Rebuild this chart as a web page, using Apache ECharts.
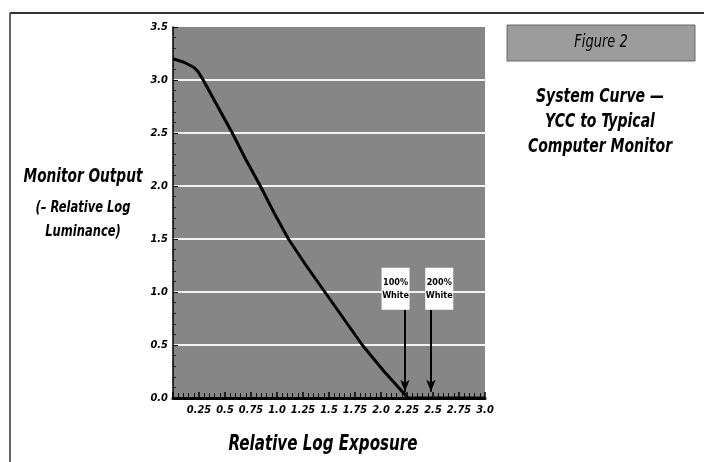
<!DOCTYPE html>
<html>
<head>
<meta charset="utf-8">
<script src="https://cdn.jsdelivr.net/npm/echarts@6/dist/echarts.min.js"></script>
<style>
html,body{margin:0;padding:0;background:#fff;}
#chart{width:704px;height:462px;}
</style>
</head>
<body>
<div id="chart"></div>
<script>
// Data
const exposure  = [0, 0.10, 0.20, 0.24, 0.29, 0.43, 0.57, 0.70, 0.84, 0.97, 1.11, 1.28, 1.46, 1.64, 1.82, 2.03, 2.26, 2.50, 2.75, 3.0];
const luminance = [3.2, 3.17, 3.12, 3.08, 3.0, 2.75, 2.5, 2.25, 2.0, 1.75, 1.5, 1.25, 1.0, 0.75, 0.5, 0.25, 0.0, 0.0, 0.0, 0.0];
const xTickLabels = ['', '0.25', '0.5', '0.75', '1.0', '1.25', '1.5', '1.75', '2.0', '2.25', '2.5', '2.75', '3.0'];
const yTickLabels = ['0.0', '0.5', '1.0', '1.5', '2.0', '2.5', '3.0', '3.5'];
const markerLabels = ['100%\nWhite', '200%\nWhite'];
const markerX = [2.23, 2.48];

const FONT = "'DejaVu Sans Condensed','Liberation Sans Narrow',sans-serif";
const chart = echarts.init(document.getElementById('chart'), null, {renderer: 'canvas'});

const linePts = exposure.map((x, i) => [x, luminance[i]]);

function txt(x, y, text, font, sx, extra) {
  return Object.assign({type: 'text', x: x, y: y, scaleX: sx,
    style: Object.assign({text: text, textAlign: 'center', textVerticalAlign: 'middle', font: font, fill: '#000'}, extra || {})});
}

const option = {
  backgroundColor: '#ffffff',
  animation: false,
  grid: {left: 173, top: 27, width: 312, height: 371, show: true, backgroundColor: '#868686', borderWidth: 0},
  xAxis: {
    type: 'value', min: 0, max: 3, interval: 0.25,
    axisLine: {show: true, onZero: false, lineStyle: {color: '#000', width: 3}},
    axisTick: {show: true, inside: true, length: 6, lineStyle: {color: '#000', width: 1.5}},
    minorTick: {show: true, splitNumber: 5, length: 5, lineStyle: {color: '#111', width: 1}},
    splitLine: {show: false},
    axisLabel: {
      margin: 7, color: '#000', fontFamily: FONT, fontStyle: 'italic', fontWeight: 'bold', fontSize: 11,
      formatter: v => xTickLabels[Math.round(v / 0.25)] || ''
    }
  },
  yAxis: {
    type: 'value', min: 0, max: 3.5, interval: 0.5,
    axisLine: {show: true, lineStyle: {color: '#000', width: 1.5}},
    axisTick: {show: true, inside: true, length: 5, lineStyle: {color: '#000'}},
    minorTick: {show: true, splitNumber: 5, length: 3, lineStyle: {color: '#222'}},
    splitLine: {show: true, showMinLine: false, showMaxLine: false, lineStyle: {color: '#ffffff', width: 2, opacity: 0.9}},
    axisLabel: {
      margin: 5, color: '#000', fontFamily: FONT, fontStyle: 'italic', fontWeight: 'bold', fontSize: 11,
      formatter: v => yTickLabels[Math.round(v / 0.5)]
    }
  },
  series: [{
    type: 'line', data: linePts, smooth: false, showSymbol: false,
    lineStyle: {color: '#000', width: 3}, silent: true,
    markLine: {
      silent: true, symbol: ['none', 'arrow'], symbolSize: [7, 12],
      lineStyle: {color: '#000', width: 2, type: 'solid'},
      label: {show: false},
      data: markerX.map(x => [{coord: [x, 0.83]}, {coord: [x, 0.06]}])
    },
    markPoint: {
      silent: true, symbol: 'rect', symbolSize: [28, 42],
      itemStyle: {color: '#ffffff'},
      label: {show: true, color: '#000', fontFamily: FONT, fontWeight: 'bold', fontSize: 9, lineHeight: 13,
              formatter: p => p.name},
      data: markerLabels.map((t, i) => ({name: t, coord: [markerX[i] + (i === 0 ? -0.09 : 0.08), 1.03]}))
    }
  }],
  graphic: [
    {type: 'line', shape: {x1: 10, y1: 13, x2: 704, y2: 13}, style: {stroke: '#333', lineWidth: 2}},
    {type: 'line', shape: {x1: 10, y1: 13, x2: 10, y2: 462}, style: {stroke: '#333', lineWidth: 1.5}},
    {type: 'rect', shape: {x: 507, y: 25, width: 188, height: 36}, style: {fill: '#9c9c9c', stroke: '#666', lineWidth: 1}},
    txt(601, 43, 'Figure 2', "italic 17px " + FONT, 0.85),
    txt(600, 122, 'System Curve —\nYCC to Typical\nComputer Monitor', "italic bold 19px " + FONT, 0.82, {lineHeight: 25}),
    txt(83, 177, 'Monitor Output', "italic bold 19px " + FONT, 0.8),
    txt(83, 220, '(– Relative Log\nLuminance)', "italic bold 16px " + FONT, 0.8, {lineHeight: 24}),
    txt(323, 445, 'Relative Log Exposure', "italic bold 21px " + FONT, 0.8)
  ]
};
chart.setOption(option);
</script>
</body>
</html>
